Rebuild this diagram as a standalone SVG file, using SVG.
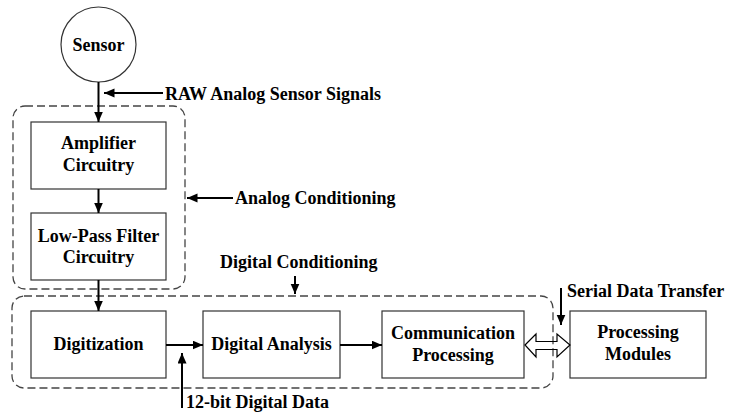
<svg xmlns="http://www.w3.org/2000/svg" width="730" height="412" viewBox="0 0 730 412">
<defs>
<style>
text{font-family:'Liberation Serif','Times New Roman',serif;font-weight:bold;font-size:18px;fill:#000}
.c{text-anchor:middle}
.box{fill:#fff;stroke:#333;stroke-width:1.2}
.grp{fill:none;stroke:#444;stroke-width:1.3;stroke-dasharray:8 4}
.arr{stroke:#000;stroke-width:2;fill:none;marker-end:url(#ah)}
</style>
<marker id="ah" markerUnits="userSpaceOnUse" markerWidth="12" markerHeight="10" refX="10.5" refY="4.5" orient="auto">
<path d="M0,0 L10.5,4.5 L0,9 z" fill="#000"/>
</marker>
</defs>
<rect width="730" height="412" fill="#fff"/>
<g id="analog-conditioning"><rect class="grp" x="13" y="106" width="172" height="183" rx="12"/></g>
<g id="digital-conditioning"><rect class="grp" x="12" y="296" width="541" height="92" rx="12"/></g>
<g id="sensor"><circle cx="98.5" cy="44.5" r="37.5" fill="#fff" stroke="#333" stroke-width="1.2"/><text class="c" x="98.5" y="51">Sensor</text></g>
<g id="amplifier"><rect class="box" x="31" y="122" width="135" height="67"/><text class="c" x="98.5" y="149">Amplifier</text><text class="c" x="98.5" y="171">Circuitry</text></g>
<g id="lowpass"><rect class="box" x="31" y="213" width="135" height="67"/><text class="c" x="98.5" y="242">Low-Pass Filter</text><text class="c" x="98.5" y="263">Circuitry</text></g>
<g id="digitization"><rect class="box" x="31" y="311" width="135" height="67"/><text class="c" x="98.5" y="350">Digitization</text></g>
<g id="digital-analysis"><rect class="box" x="203" y="311" width="137" height="67"/><text class="c" x="271.5" y="350">Digital Analysis</text></g>
<g id="communication"><rect class="box" x="382" y="311" width="142" height="67"/><text class="c" x="453" y="339">Communication</text><text class="c" x="453" y="361">Processing</text></g>
<g id="processing-modules"><rect class="box" x="570" y="311" width="136" height="67"/><text class="c" x="638" y="338">Processing</text><text class="c" x="638" y="360">Modules</text></g>
<g id="labels">
<text x="165" y="100">RAW Analog Sensor Signals</text>
<text x="235" y="204">Analog Conditioning</text>
<text x="220" y="268">Digital Conditioning</text>
<text x="186" y="408">12-bit Digital Data</text>
<text x="567" y="297">Serial Data Transfer</text>
</g>
<g id="connectors">
<line class="arr" x1="98.5" y1="82" x2="98.5" y2="122"/>
<line class="arr" x1="98.5" y1="189" x2="98.5" y2="213"/>
<line class="arr" x1="98.5" y1="280" x2="98.5" y2="311"/>
<line class="arr" x1="166" y1="345" x2="203" y2="345"/>
<line class="arr" x1="340" y1="345" x2="382" y2="345"/>
<line class="arr" x1="163" y1="93" x2="104" y2="93"/>
<line class="arr" x1="233" y1="198" x2="187" y2="198"/>
<line class="arr" x1="295" y1="276" x2="295" y2="294"/>
<line class="arr" x1="182" y1="408" x2="182" y2="353"/>
<line class="arr" x1="561" y1="288" x2="561" y2="325"/>
<polygon points="525,345 536,334 536,341.5 557,341.5 557,334 570,345 557,357 557,349.5 536,349.5 536,357" fill="none" stroke="#000" stroke-width="1.2"/>
</g>
</svg>
